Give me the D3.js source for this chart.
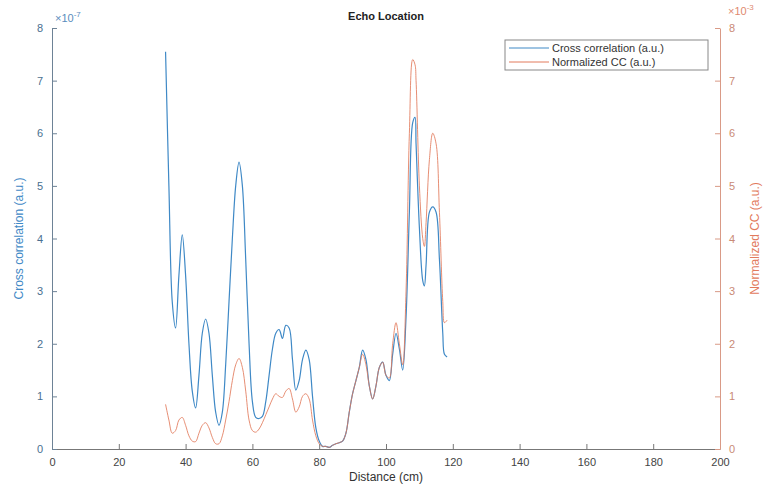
<!DOCTYPE html>
<html lang="en">
<head>
    <meta charset="utf-8">
    <title>Echo Location</title>
    <script src="https://cdn.jsdelivr.net/npm/d3@7"></script>
</head>
<style>
    body { margin: 0; background: #fff; }
    text { font-family: "Liberation Sans", Arial, Helvetica, sans-serif; }
</style>
<body>
    <script type="text/javascript">
        // distance (cm) samples
        var distance = [34, 35, 36, 37, 38, 39, 40, 41, 42, 43, 44, 45, 46, 47, 48, 49, 50, 51, 52, 53, 54, 55, 56, 57, 58, 59,
            60, 61, 62, 63, 64, 65, 66, 67, 68, 69, 70, 71, 72, 73, 74, 75, 76, 77, 78, 79, 80, 81, 82, 83, 84, 85, 86, 87, 88, 89,
            90, 91, 92, 93, 94, 95, 96, 97, 98, 99, 100, 101, 102, 103, 104, 105, 106, 107, 108, 108.7, 109, 110, 111, 111.5,
            112, 113, 114, 115, 116, 117, 117.5, 118.3];
        // cross correlation, x 1e-7
        var crossCorr = [7.55, 5.0, 2.8, 2.3, 3.3, 4.07, 3.3, 2.0, 1.1, 0.78, 1.4, 2.2, 2.47, 2.2, 1.4, 0.7, 0.45, 0.7, 1.6, 2.8,
            4.0, 5.0, 5.45, 5.0, 3.6, 2.0, 0.9, 0.6, 0.58, 0.62, 0.9, 1.4, 1.9, 2.2, 2.27, 2.1, 2.35, 2.3, 1.7, 1.12, 1.3, 1.7,
            1.88, 1.7, 1.0, 0.4, 0.15, 0.05, 0.05, 0.03, 0.07, 0.1, 0.12, 0.15, 0.3, 0.7, 1.05, 1.3, 1.55, 1.88, 1.7, 1.2, 0.95,
            1.2, 1.55, 1.65, 1.4, 1.3, 1.8, 2.2, 1.9, 1.5, 2.5, 4.5, 6.2, 6.3, 5.8, 4.2, 3.2, 3.1, 3.5, 4.5, 4.6, 4.5, 3.6, 2.2,
            1.8, 1.75];
        // normalized CC, x 1e-3
        var normCC = [0.85, 0.55, 0.3, 0.35, 0.55, 0.6, 0.45, 0.25, 0.15, 0.14, 0.3, 0.45, 0.5, 0.4, 0.22, 0.1, 0.1, 0.25, 0.55,
            0.9, 1.3, 1.6, 1.72, 1.55, 1.1, 0.55, 0.35, 0.32, 0.38, 0.5, 0.65, 0.8, 0.95, 1.05, 1.0, 0.98, 1.1, 1.15, 0.95, 0.7,
            0.8, 1.0, 1.05, 0.95, 0.55, 0.25, 0.1, 0.05, 0.05, 0.03, 0.07, 0.1, 0.12, 0.15, 0.3, 0.7, 1.05, 1.3, 1.55, 1.8, 1.6,
            1.2, 0.95, 1.2, 1.55, 1.65, 1.4, 1.35, 2.0, 2.4, 2.0, 1.6, 3.0, 6.0, 7.4, 7.3, 7.0, 5.0, 4.0, 3.85, 4.3, 5.5, 6.0,
            5.8, 4.5, 2.8, 2.4, 2.45];
        var xTicks = [0, 20, 40, 60, 80, 100, 120, 140, 160, 180, 200];
        var yTicks = [0, 1, 2, 3, 4, 5, 6, 7, 8];
        var legendLabels = ["Cross correlation (a.u.)", "Normalized CC (a.u.)"];

        (function () {
            const width = 769, height = 490;
            const mLeft = 52, mRight = 720, mTop = 28, mBottom = 449;
            const blue = "#3f89c6", red = "#e27a5c";

            const svg = d3.select("body").append("svg")
                .attr("width", width)
                .attr("height", height);

            const x = d3.scaleLinear().domain([0, 200]).range([mLeft, mRight]);
            const yL = d3.scaleLinear().domain([0, 8]).range([mBottom, mTop]);
            const yR = d3.scaleLinear().domain([0, 8]).range([mBottom, mTop]);

            // axes, ticks pointing inward
            const xAxis = svg.append("g")
                .attr("transform", `translate(0,${mBottom})`)
                .call(d3.axisBottom(x).tickValues(xTicks).tickSizeInner(-5).tickSizeOuter(0).tickPadding(9));
            xAxis.select(".domain").attr("stroke", "#777");
            xAxis.selectAll(".tick line").attr("stroke", "#777");
            xAxis.selectAll("text").attr("fill", "#444").attr("font-size", 11);

            const lAxis = svg.append("g")
                .attr("transform", `translate(${mLeft},0)`)
                .call(d3.axisLeft(yL).tickValues(yTicks).tickSizeInner(-5).tickSizeOuter(0).tickPadding(9));
            lAxis.select(".domain").attr("stroke", "#6d8296");
            lAxis.selectAll(".tick line").attr("stroke", "#6d8296");
            lAxis.selectAll("text").attr("fill", "#4a6f90").attr("font-size", 11);

            const rAxis = svg.append("g")
                .attr("transform", `translate(${mRight},0)`)
                .call(d3.axisRight(yR).tickValues(yTicks).tickSizeInner(-5).tickSizeOuter(0).tickPadding(9));
            rAxis.select(".domain").attr("stroke", "#d99a86");
            rAxis.selectAll(".tick line").attr("stroke", "#d99a86");
            rAxis.selectAll("text").attr("fill", "#c98a76").attr("font-size", 11);

            // exponent labels
            svg.append("text").attr("x", mLeft + 3).attr("y", mTop - 6).attr("fill", "#5a8dbd").attr("font-size", 11)
                .html('\u00d710<tspan dy="-5" font-size="8">-7</tspan>');
            svg.append("text").attr("x", mRight + 8).attr("y", mTop - 13).attr("fill", "#e08a70").attr("font-size", 11)
                .html('\u00d710<tspan dy="-5" font-size="8">-3</tspan>');

            // lines
            const lineL = d3.line().x((d, i) => x(distance[i])).y(d => yL(d)).curve(d3.curveCatmullRom);
            const lineR = d3.line().x((d, i) => x(distance[i])).y(d => yR(d)).curve(d3.curveCatmullRom);

            svg.append("path").datum(crossCorr)
                .attr("d", lineL)
                .attr("fill", "none")
                .attr("stroke", blue)
                .attr("stroke-width", 1.2);
            svg.append("path").datum(normCC)
                .attr("d", lineR)
                .attr("fill", "none")
                .attr("stroke", red)
                .attr("stroke-width", 1)
                .attr("stroke-opacity", 0.85);

            // title & axis labels
            svg.append("text").attr("x", (mLeft + mRight) / 2).attr("y", 20)
                .attr("text-anchor", "middle").attr("font-weight", "bold").attr("font-size", 11).attr("fill", "#222")
                .text("Echo Location");
            svg.append("text").attr("x", (mLeft + mRight) / 2).attr("y", 481)
                .attr("text-anchor", "middle").attr("font-size", 12).attr("fill", "#333")
                .text("Distance (cm)");
            svg.append("text")
                .attr("transform", `translate(23,${(mTop + mBottom) / 2}) rotate(-90)`)
                .attr("text-anchor", "middle").attr("font-size", 12).attr("fill", blue)
                .text("Cross correlation (a.u.)");
            svg.append("text")
                .attr("transform", `translate(759,${(mTop + mBottom) / 2}) rotate(-90)`)
                .attr("text-anchor", "middle").attr("font-size", 12).attr("fill", red)
                .text("Normalized CC (a.u.)");

            // legend
            const lg = svg.append("g").attr("transform", "translate(505,40)");
            lg.append("rect").attr("width", 203).attr("height", 30)
                .attr("fill", "#fff").attr("stroke", "#888").attr("stroke-width", 1);
            [blue, red].forEach((c, i) => {
                lg.append("line").attr("x1", 4).attr("x2", 44).attr("y1", 8 + i * 14).attr("y2", 8 + i * 14)
                    .attr("stroke", c).attr("stroke-width", 1);
                lg.append("text").attr("x", 47).attr("y", 12 + i * 14).attr("font-size", 11).attr("fill", "#333")
                    .text(legendLabels[i]);
            });
        })();
    </script>
</body>
</html>
